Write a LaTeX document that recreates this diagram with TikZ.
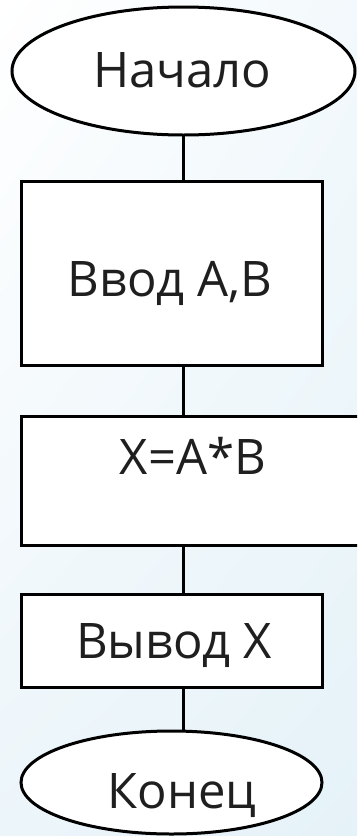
\documentclass[tikz,border=0pt]{standalone}
\usepackage{fontspec}
\setmainfont{Open Sans}
\usetikzlibrary{shapes.geometric,shadings}
\definecolor{bgTR}{RGB}{243,249,252}
\definecolor{bgBL}{RGB}{236,245,250}
\definecolor{bgBR}{RGB}{229,242,248}
\tikzset{
  flow/.style={draw=black, line width=3pt, fill=white, inner sep=0pt, outer sep=0pt},
  terminal/.style={flow, ellipse},
  block/.style={flow, rectangle},
  txt/.style={font=\fontsize{49pt}{52pt}\selectfont, text=black!88,
              text height=35pt, text depth=0pt, inner sep=0pt},
  link/.style={line width=3pt, draw=black}
}
\begin{document}
\begin{tikzpicture}[x=1pt, y=-1pt]
  % page frame and soft background
  \useasboundingbox (0,0) rectangle (357,836);
  \shade[upper left=white, upper right=bgTR, lower left=bgBL, lower right=bgBR]
    (0,0) rectangle (357,836);
  \begin{scope}
    \clip (0,0) rectangle (357,836);

    % flowchart blocks
    \node[terminal, minimum width=343pt, minimum height=128pt,
          label={[txt, xshift=-1pt, yshift=1pt]center:Начало}]
          (start) at (183.5,71) {};
    \node[block, minimum width=301pt, minimum height=184pt,
          label={[txt, xshift=-1.5pt, yshift=-6pt]center:Ввод А,В}]
          (input) at (171.5,273) {};
    \node[block, minimum width=344pt, minimum height=129pt,
          label={[txt, xshift=0pt, yshift=23.5pt]center:X=A*B}]
          (calc) at (193,480.5) {};
    \node[block, minimum width=301pt, minimum height=93pt,
          label={[txt, xshift=2.5pt, yshift=0pt]center:Вывод X}]
          (output) at (171.5,640.5) {};
    \node[terminal, minimum width=301pt, minimum height=103pt,
          label={[txt, xshift=10.5pt, yshift=-8.5pt]center:Конец}]
          (stop) at (171.5,782.5) {};

    % connectors along a common vertical
    \draw[link] (start.south) -- (start.south |- input.north);
    \draw[link] (start.south |- input.south) -- (start.south |- calc.north);
    \draw[link] (start.south |- calc.south) -- (start.south |- output.north);
    \draw[link] (start.south |- output.south) -- (start.south |- stop.north);
  \end{scope}
\end{tikzpicture}
\end{document}
